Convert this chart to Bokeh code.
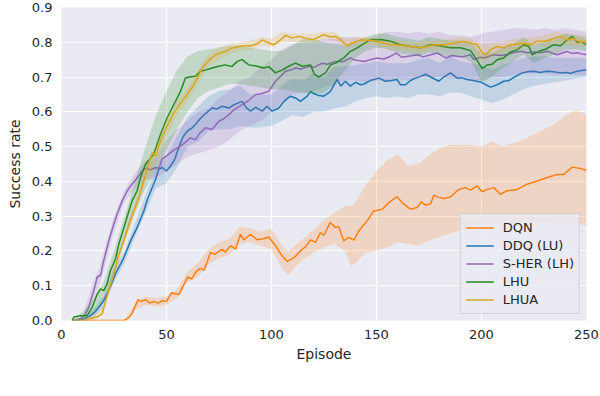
from bokeh.plotting import figure
from bokeh.models import Range1d, FixedTicker, NumeralTickFormatter, Legend, LegendItem
from bokeh.embed import file_html
from bokeh.resources import INLINE

# ---------------- data ----------------
dqn_x = [10, 30, 32, 33.6, 35, 36.5, 38, 40, 42, 44, 46, 48, 50, 52.5, 54, 56, 58, 60, 62, 64, 66, 68, 70, 71, 73,
         76.5, 78, 80.5, 82.9, 85.2, 86.8, 88, 90, 93.2, 96, 98.7, 101.9, 105, 107.5, 110.6, 114.6, 116, 118.6, 121,
         123.3, 125, 128, 130.5, 132, 134.4, 136.8, 139.2, 141.6, 145.6, 148.7, 152.7, 155.9, 159.8, 162.2, 166.2,
         169.4, 171.3, 173.3, 175.7, 177.3, 179.7, 182, 185.2, 189.2, 192.4, 194.8, 197.9, 200.3, 202.7, 205.9, 209,
         212.2, 217, 221.7, 226.5, 231.3, 236, 239.2, 243.2, 247.1, 250]
dqn_y = [0, 0, 0.008, 0.02, 0.04, 0.06, 0.055, 0.06, 0.05, 0.055, 0.05, 0.057, 0.055, 0.08, 0.077, 0.075, 0.1, 0.125,
         0.12, 0.14, 0.15, 0.145, 0.18, 0.196, 0.19, 0.205, 0.196, 0.215, 0.205, 0.248, 0.232, 0.238, 0.248, 0.232,
         0.235, 0.24, 0.215, 0.186, 0.17, 0.18, 0.205, 0.21, 0.232, 0.225, 0.253, 0.245, 0.282, 0.267, 0.27, 0.229,
         0.239, 0.231, 0.258, 0.287, 0.315, 0.32, 0.339, 0.356, 0.339, 0.32, 0.325, 0.341, 0.332, 0.335, 0.36, 0.354,
         0.351, 0.355, 0.377, 0.382, 0.375, 0.387, 0.37, 0.377, 0.382, 0.363, 0.373, 0.377, 0.392, 0.401, 0.411,
         0.42, 0.42, 0.441, 0.437, 0.432]
dqn_bx = [10, 30, 35, 40, 45, 50, 55, 60, 65, 70, 75, 80, 85, 90, 95, 100, 105, 108, 110, 115, 120, 125, 130, 135,
          138, 140, 145, 150, 155, 160, 165, 170, 175, 180, 185, 190, 195, 200, 205, 210, 215, 220, 225, 230, 235,
          240, 245, 250]
dqn_lo = [0, 0, 0.03, 0.045, 0.04, 0.045, 0.065, 0.11, 0.125, 0.16, 0.18, 0.19, 0.22, 0.225, 0.215, 0.205, 0.15,
          0.13, 0.145, 0.175, 0.195, 0.21, 0.22, 0.2, 0.155, 0.165, 0.195, 0.2, 0.21, 0.225, 0.22, 0.215, 0.23, 0.24,
          0.25, 0.26, 0.27, 0.275, 0.28, 0.275, 0.275, 0.28, 0.28, 0.285, 0.28, 0.28, 0.28, 0.272]
dqn_hi = [0, 0, 0.05, 0.07, 0.065, 0.068, 0.09, 0.14, 0.165, 0.205, 0.225, 0.235, 0.27, 0.265, 0.255, 0.265, 0.215,
          0.2, 0.21, 0.235, 0.26, 0.29, 0.31, 0.33, 0.33, 0.34, 0.39, 0.43, 0.46, 0.478, 0.445, 0.45, 0.475, 0.495,
          0.505, 0.505, 0.505, 0.5, 0.515, 0.5, 0.51, 0.52, 0.535, 0.55, 0.565, 0.59, 0.605, 0.592]

ddq_x = [5, 8, 11, 13.8, 16, 17.8, 20.1, 22.5, 25.7, 29.7, 32.9, 36, 39.2, 41, 42.4, 44.8, 46.3, 48, 50, 52, 54, 56,
         58, 60, 62, 64, 66, 68.6, 71.7, 74, 76.5, 79.7, 82, 86, 88, 90, 92.4, 95.6, 97.9, 100.3, 103.5, 105.9, 109,
         111.4, 113.8, 117, 118.6, 120.2, 122, 124.9, 127.3, 128, 131.3, 133, 135.2, 137.6, 140, 142.4, 144, 147,
         151.1, 154.3, 157, 159.8, 161.4, 163.8, 166.2, 168.6, 171, 173.3, 176.5, 179.7, 182, 185.2, 188.4, 191,
         193.2, 196, 199.5, 202, 204.3, 207.5, 210.6, 213, 215.4, 219.4, 222, 225, 228, 231.3, 234.4, 237.6, 240.8,
         242.4, 245.6, 247, 250]
ddq_y = [0, 0, 0.005, 0.014, 0.025, 0.038, 0.057, 0.086, 0.134, 0.181, 0.229, 0.267, 0.315, 0.35, 0.37, 0.406, 0.435,
         0.44, 0.43, 0.445, 0.465, 0.5, 0.53, 0.545, 0.553, 0.565, 0.58, 0.595, 0.611, 0.608, 0.616, 0.611, 0.62,
         0.63, 0.612, 0.602, 0.613, 0.602, 0.616, 0.602, 0.611, 0.63, 0.645, 0.64, 0.63, 0.645, 0.659, 0.652, 0.648,
         0.645, 0.655, 0.659, 0.693, 0.674, 0.688, 0.674, 0.685, 0.678, 0.68, 0.69, 0.697, 0.688, 0.69, 0.693,
         0.678, 0.678, 0.69, 0.697, 0.702, 0.708, 0.698, 0.688, 0.7, 0.712, 0.697, 0.697, 0.693, 0.69, 0.686, 0.678,
         0.671, 0.678, 0.688, 0.69, 0.699, 0.712, 0.715, 0.717, 0.713, 0.717, 0.715, 0.712, 0.713, 0.71, 0.717,
         0.718, 0.721]
ddq_bx = [5, 10, 15, 20, 25, 30, 35, 40, 45, 50, 55, 60, 65, 70, 75, 80, 85, 90, 95, 100, 105, 110, 115, 120, 125,
          130, 135, 140, 145, 150, 155, 160, 165, 170, 175, 180, 185, 190, 195, 200, 205, 210, 215, 220, 225, 230,
          235, 240, 245, 250]
ddq_lo = [0, 0, 0.005, 0.045, 0.11, 0.165, 0.24, 0.31, 0.38, 0.395, 0.44, 0.5, 0.515, 0.545, 0.55, 0.55, 0.56,
          0.555, 0.555, 0.56, 0.575, 0.59, 0.585, 0.6, 0.6, 0.61, 0.615, 0.63, 0.64, 0.645, 0.64, 0.645, 0.64, 0.65,
          0.65, 0.645, 0.655, 0.655, 0.645, 0.635, 0.625, 0.635, 0.65, 0.665, 0.675, 0.68, 0.685, 0.69, 0.695, 0.7]
ddq_hi = [0, 0.01, 0.03, 0.07, 0.15, 0.2, 0.28, 0.36, 0.44, 0.475, 0.53, 0.585, 0.615, 0.645, 0.66, 0.665, 0.675,
          0.65, 0.65, 0.65, 0.675, 0.695, 0.69, 0.71, 0.7, 0.73, 0.73, 0.735, 0.74, 0.745, 0.74, 0.74, 0.74, 0.75,
          0.755, 0.74, 0.76, 0.745, 0.74, 0.735, 0.72, 0.735, 0.745, 0.755, 0.76, 0.76, 0.755, 0.755, 0.755, 0.755]

sher_x = [5, 7, 9, 11, 13, 15.4, 17, 18.6, 20.1, 22.5, 24.9, 26.5, 28.9, 31.3, 33.6, 36.8, 39, 40.8, 42.4, 44.8,
          46.5, 47.9, 50.3, 53.5, 57.5, 61.4, 63.8, 66, 68.6, 71.7, 74.9, 77.3, 79.7, 82, 86, 89, 92.4, 95, 98.7,
          101.9, 104, 106.7, 109, 111.4, 114, 117.8, 120.2, 124.1, 126.5, 130.5, 132.9, 134.4, 137.6, 139.2, 144,
          147, 150.3, 153.5, 156.7, 159.5, 162, 165.1, 169.8, 172, 174.6, 179, 183, 186, 188.4, 191, 194.8, 196.3,
          199.5, 201, 205.9, 209, 212.2, 215, 218.6, 222, 225, 228, 231.3, 234, 236, 240.8, 243, 245.6, 248, 250]
sher_y = [0, 0, 0.005, 0.015, 0.038, 0.086, 0.125, 0.13, 0.172, 0.229, 0.277, 0.306, 0.344, 0.373, 0.392, 0.416,
          0.435, 0.438, 0.433, 0.44, 0.437, 0.465, 0.475, 0.49, 0.505, 0.525, 0.52, 0.54, 0.554, 0.549, 0.573, 0.58,
          0.592, 0.605, 0.621, 0.632, 0.65, 0.652, 0.659, 0.688, 0.7, 0.717, 0.72, 0.726, 0.723, 0.731, 0.728, 0.74,
          0.737, 0.745, 0.745, 0.745, 0.755, 0.75, 0.745, 0.75, 0.755, 0.752, 0.76, 0.769, 0.757, 0.76, 0.764, 0.758,
          0.762, 0.769, 0.755, 0.762, 0.76, 0.758, 0.764, 0.75, 0.757, 0.755, 0.764, 0.762, 0.765, 0.77, 0.774,
          0.77, 0.772, 0.77, 0.774, 0.768, 0.764, 0.774, 0.768, 0.77, 0.766, 0.764]
sher_bx = [5, 10, 15, 18, 20, 25, 30, 35, 40, 45, 50, 55, 60, 65, 70, 75, 80, 85, 90, 95, 100, 105, 110, 115, 120,
           125, 130, 135, 140, 145, 150, 155, 160, 165, 170, 175, 180, 185, 190, 195, 200, 205, 210, 215, 220, 225,
           230, 235, 240, 245, 250]
sher_lo = [0, 0, 0.06, 0.1, 0.14, 0.255, 0.34, 0.38, 0.405, 0.41, 0.43, 0.45, 0.47, 0.48, 0.49, 0.5, 0.52, 0.545,
           0.56, 0.575, 0.6, 0.63, 0.65, 0.655, 0.66, 0.67, 0.68, 0.69, 0.69, 0.685, 0.69, 0.69, 0.695, 0.69, 0.7,
           0.7, 0.7, 0.695, 0.695, 0.69, 0.69, 0.7, 0.7, 0.705, 0.71, 0.71, 0.71, 0.705, 0.71, 0.705, 0.705]
sher_hi = [0, 0.012, 0.11, 0.15, 0.195, 0.3, 0.375, 0.425, 0.46, 0.47, 0.52, 0.55, 0.575, 0.6, 0.61, 0.64, 0.66,
           0.69, 0.7, 0.73, 0.75, 0.78, 0.795, 0.8, 0.8, 0.81, 0.81, 0.815, 0.815, 0.81, 0.82, 0.83, 0.83, 0.825,
           0.83, 0.825, 0.83, 0.82, 0.82, 0.815, 0.825, 0.83, 0.835, 0.84, 0.84, 0.835, 0.84, 0.835, 0.84, 0.835, 0.83]

lhu_x = [5, 5.9, 9, 12.2, 14.6, 17, 18.6, 20.1, 21.7, 23.3, 25.7, 27.3, 29.7, 32.1, 33.6, 36, 37.6, 40, 43.9, 47.1,
         50.3, 53.5, 56.7, 59, 61, 63.8, 66.2, 68.6, 71.7, 74.9, 78, 81.1, 83.7, 86, 89.2, 93.2, 96.3, 98.7, 101.9,
         105, 108.2, 111.4, 114.6, 118.6, 120.2, 122.5, 125.7, 128.1, 130.5, 134.4, 137.6, 140.8, 144, 147.1, 151.9,
         156.7, 161.4, 166.2, 171, 175.7, 180, 185.2, 190, 194.8, 197.9, 200.3, 202.7, 205.1, 207.5, 210.6, 213.8,
         217, 220.2, 222.6, 224.1, 227.3, 230.5, 234.4, 237.6, 240.8, 243.2, 245.6, 248, 250]
lhu_y = [0, 0.01, 0.014, 0.014, 0.038, 0.076, 0.091, 0.086, 0.105, 0.143, 0.177, 0.22, 0.267, 0.315, 0.344, 0.373,
         0.411, 0.449, 0.478, 0.535, 0.583, 0.621, 0.659, 0.697, 0.7, 0.702, 0.717, 0.72, 0.726, 0.731, 0.735, 0.73,
         0.745, 0.75, 0.735, 0.731, 0.726, 0.73, 0.712, 0.72, 0.731, 0.74, 0.731, 0.735, 0.71, 0.7, 0.712, 0.735,
         0.74, 0.755, 0.774, 0.784, 0.796, 0.807, 0.808, 0.803, 0.793, 0.788, 0.784, 0.793, 0.79, 0.784, 0.784,
         0.776, 0.748, 0.724, 0.735, 0.737, 0.75, 0.755, 0.772, 0.779, 0.793, 0.788, 0.764, 0.774, 0.78, 0.793,
         0.79, 0.807, 0.817, 0.8, 0.8, 0.793]
lhu_bx = [5, 10, 15, 20, 25, 30, 35, 40, 45, 50, 55, 60, 65, 70, 75, 80, 85, 90, 95, 100, 105, 110, 115, 120, 125,
          130, 135, 140, 145, 150, 155, 160, 165, 170, 175, 180, 185, 190, 195, 200, 205, 210, 215, 220, 225, 230,
          235, 240, 245, 250]
lhu_lo = [0, 0.005, 0.02, 0.06, 0.13, 0.23, 0.31, 0.38, 0.43, 0.49, 0.55, 0.6, 0.64, 0.66, 0.67, 0.68, 0.68, 0.675,
          0.67, 0.665, 0.665, 0.66, 0.655, 0.65, 0.655, 0.68, 0.72, 0.755, 0.775, 0.785, 0.78, 0.77, 0.765, 0.76,
          0.77, 0.765, 0.76, 0.76, 0.745, 0.685, 0.7, 0.725, 0.745, 0.765, 0.74, 0.755, 0.765, 0.78, 0.78, 0.775]
lhu_hi = [0, 0.025, 0.06, 0.11, 0.2, 0.3, 0.4, 0.5, 0.59, 0.66, 0.72, 0.76, 0.775, 0.78, 0.785, 0.79, 0.79, 0.785,
          0.78, 0.775, 0.775, 0.79, 0.81, 0.81, 0.8, 0.795, 0.79, 0.8, 0.815, 0.825, 0.825, 0.815, 0.81, 0.805,
          0.815, 0.81, 0.805, 0.805, 0.8, 0.765, 0.77, 0.785, 0.795, 0.815, 0.79, 0.805, 0.815, 0.825, 0.82, 0.81]

lhua_x = [5, 12, 13, 17, 19.4, 21, 22.5, 24.9, 27.3, 29.7, 32.1, 34.4, 36.8, 39.2, 41.6, 43.2, 44.8, 47.1, 50.3,
          53.5, 56.7, 59.8, 63, 65.4, 67, 70.2, 73.3, 75.7, 78, 81.1, 84.3, 87.5, 90.6, 93.8, 95.6, 98, 101.1, 104.3,
          106.7, 109.8, 113, 116.2, 119.4, 122.5, 124.9, 128.1, 130.5, 132.9, 136, 138.4, 142.4, 147.1, 151.9, 156.7,
          161.4, 166.2, 171, 174.1, 177.3, 182, 187.2, 191.6, 194.8, 197.9, 200.3, 201.9, 204.3, 207.5, 210.6, 213.8,
          217, 220.2, 223.3, 226.5, 231.3, 234.4, 237.6, 240.8, 244, 247, 250]
lhua_y = [0, 0, 0.005, 0.01, 0.019, 0.057, 0.086, 0.134, 0.191, 0.229, 0.277, 0.315, 0.353, 0.401, 0.455, 0.482,
          0.473, 0.516, 0.56, 0.597, 0.625, 0.65, 0.678, 0.705, 0.726, 0.748, 0.764, 0.769, 0.774, 0.783, 0.788,
          0.79, 0.79, 0.798, 0.807, 0.8, 0.793, 0.807, 0.82, 0.812, 0.817, 0.812, 0.807, 0.815, 0.822, 0.815, 0.817,
          0.807, 0.79, 0.798, 0.807, 0.805, 0.8, 0.793, 0.792, 0.788, 0.784, 0.788, 0.793, 0.793, 0.798, 0.803,
          0.798, 0.793, 0.77, 0.764, 0.779, 0.788, 0.784, 0.793, 0.795, 0.798, 0.793, 0.803, 0.803, 0.812, 0.817,
          0.807, 0.81, 0.8, 0.803]
lhua_bx = [5, 15, 20, 25, 30, 35, 40, 45, 50, 55, 60, 65, 70, 75, 80, 85, 90, 95, 100, 105, 110, 115, 120, 125,
           130, 135, 140, 145, 150, 155, 160, 165, 170, 175, 180, 185, 190, 195, 200, 205, 210, 215, 220, 225, 230,
           235, 240, 245, 250]
lhua_lo = [0, 0, 0.02, 0.12, 0.22, 0.31, 0.4, 0.45, 0.53, 0.59, 0.63, 0.68, 0.73, 0.75, 0.765, 0.775, 0.778, 0.79,
           0.785, 0.8, 0.8, 0.8, 0.8, 0.81, 0.805, 0.785, 0.79, 0.795, 0.79, 0.78, 0.78, 0.775, 0.77, 0.775, 0.78,
           0.785, 0.79, 0.785, 0.745, 0.76, 0.77, 0.775, 0.785, 0.79, 0.79, 0.795, 0.795, 0.79, 0.79]
lhua_hi = [0, 0.015, 0.045, 0.15, 0.25, 0.34, 0.44, 0.5, 0.58, 0.63, 0.67, 0.72, 0.765, 0.785, 0.795, 0.8, 0.805,
           0.815, 0.81, 0.83, 0.825, 0.825, 0.825, 0.83, 0.83, 0.81, 0.815, 0.815, 0.81, 0.805, 0.805, 0.8, 0.8,
           0.805, 0.805, 0.81, 0.815, 0.81, 0.795, 0.8, 0.8, 0.81, 0.81, 0.815, 0.82, 0.83, 0.825, 0.82, 0.82]

names = ["DQN", "DDQ (LU)", "S-HER (LH)", "LHU", "LHUA"]
colors = ["#ff7f0e", "#1f77b4", "#9467bd", "#228b22", "#daa520"]
x_ticks = [0, 50, 100, 150, 200, 250]
y_ticks = [0.0, 0.1, 0.2, 0.3, 0.4, 0.5, 0.6, 0.7, 0.8, 0.9]

series = [
    (dqn_x, dqn_y, dqn_bx, dqn_lo, dqn_hi),
    (ddq_x, ddq_y, ddq_bx, ddq_lo, ddq_hi),
    (sher_x, sher_y, sher_bx, sher_lo, sher_hi),
    (lhu_x, lhu_y, lhu_bx, lhu_lo, lhu_hi),
    (lhua_x, lhua_y, lhua_bx, lhua_lo, lhua_hi),
]

FONT = "DejaVu Sans"
TXT = "#262626"

p = figure(width=600, height=396, output_backend="svg", toolbar_location=None,
           x_range=Range1d(0, 250), y_range=Range1d(0, 0.9),
           frame_width=525, frame_height=313,
           min_border_left=61, min_border_right=14, min_border_top=7, min_border_bottom=76)
p.background_fill_color = "#eaeaf2"
p.border_fill_color = "white"
p.outline_line_color = None

for ax in (p.xaxis[0], p.yaxis[0]):
    ax.axis_line_color = None
    ax.major_tick_line_color = None
    ax.minor_tick_line_color = None
    ax.major_tick_out = 0
    ax.major_tick_in = 0
    ax.major_label_text_font = FONT
    ax.major_label_text_font_size = "13px"
    ax.major_label_text_color = TXT
    ax.axis_label_text_font = FONT
    ax.axis_label_text_font_size = "14px"
    ax.axis_label_text_font_style = "normal"
    ax.axis_label_text_color = TXT

p.xaxis.ticker = FixedTicker(ticks=x_ticks)
p.yaxis.ticker = FixedTicker(ticks=y_ticks)
p.yaxis.formatter = NumeralTickFormatter(format="0.0")
p.xaxis.axis_label = "Episode"
p.yaxis.axis_label = "Success rate"
p.xaxis.major_label_standoff = 9
p.yaxis.major_label_standoff = 9
p.xaxis.axis_label_standoff = 4
p.yaxis.axis_label_standoff = 6

p.xgrid.grid_line_color = "white"
p.ygrid.grid_line_color = "white"
p.xgrid.grid_line_width = 1.2
p.ygrid.grid_line_width = 1.2

items = []
for (sx, sy, bx, lo, hi), name, c in zip(series, names, colors):
    p.varea(x=bx, y1=lo, y2=hi, fill_color=c, fill_alpha=0.2)
    r = p.line(sx, sy, line_color=c, line_width=1.5)
    items.append(LegendItem(label=name, renderers=[r]))

legend = Legend(items=items, location="bottom_right")
legend.label_text_font = FONT
legend.label_text_font_size = "13px"
legend.label_text_color = TXT
legend.background_fill_color = "#eaeaf2"
legend.background_fill_alpha = 0.8
legend.border_line_color = "#cccccc"
legend.border_line_alpha = 0.8
legend.border_line_width = 1
legend.padding = 5
legend.spacing = 1
legend.margin = 6
legend.label_height = 17
legend.glyph_height = 17
legend.glyph_width = 28
legend.label_standoff = 9
p.add_layout(legend)

open("out.html", "w").write(file_html(p, INLINE))
